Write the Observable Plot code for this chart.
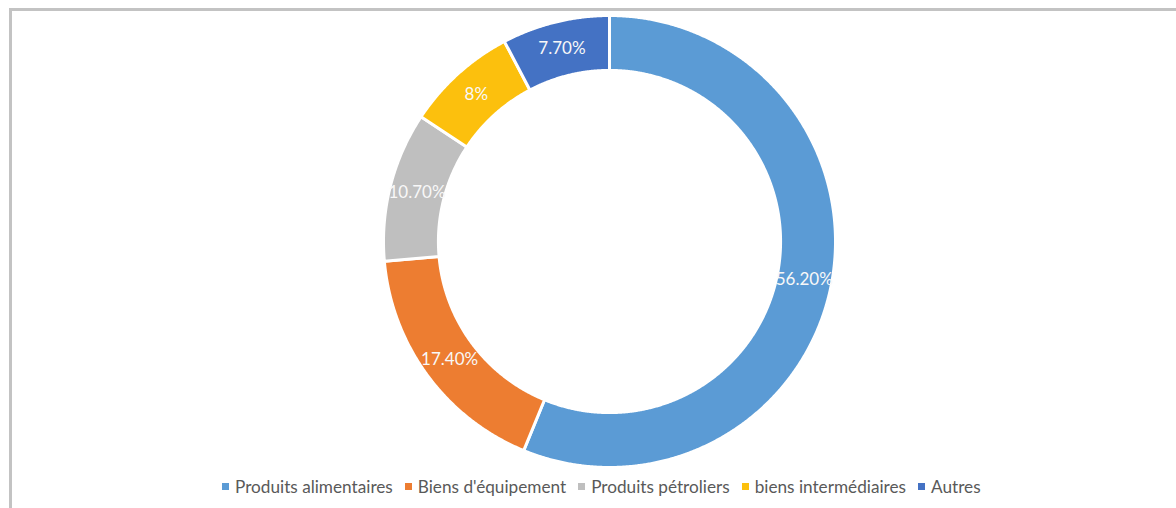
<!DOCTYPE html>
<html>
<head>
<meta charset="utf-8">
<script src="https://cdn.jsdelivr.net/npm/d3@7"></script>
<script src="https://cdn.jsdelivr.net/npm/@observablehq/plot@0.6"></script>
<style>
  html, body { margin: 0; padding: 0; background: #fff; }
  body { width: 1176px; height: 508px; position: relative; overflow: hidden; font-family: Lato, "Open Sans", sans-serif; }
  #frame { position: absolute; left: 9px; top: 8px; width: 1300px; height: 600px; border-top: 3px solid #c3c3c3; border-left: 3px solid #c3c3c3; box-sizing: border-box; }
  #chart { position: absolute; left: 0; top: 0; }
  #legend { position: absolute; left: 222px; top: 476px; display: flex; align-items: center; font-size: 17.2px; color: #595959; white-space: nowrap; }
  #legend .item { display: flex; align-items: center; margin-right: 12px; }
  #legend .sw { width: 7px; height: 7px; margin-right: 6px; }
</style>
</head>
<body>
<div id="frame"></div>
<div id="chart"></div>
<div id="legend"></div>
<script>
const categories = ["Produits alimentaires", "Biens d'équipement", "Produits pétroliers", "biens intermédiaires", "Autres"];
const values = [56.2, 17.4, 10.7, 8, 7.7];
const labels = ["56.20%", "17.40%", "10.70%", "8%", "7.70%"];
const colors = ["#5b9bd5", "#ed7d31", "#bfbfbf", "#fcc00d", "#4472c4"];

const outerR = 1;
const innerR = 0.757;

const arcs = d3.pie().sort(null).value(d => d)(values);
const polys = [];
const centroids = [];
arcs.forEach((a, i) => {
  const cat = categories[i];
  const n = Math.max(2, Math.ceil((a.endAngle - a.startAngle) / 0.005));
  for (let k = 0; k <= n; k++) {
    const t = a.startAngle + (a.endAngle - a.startAngle) * k / n;
    polys.push({cat, x: outerR * Math.sin(t), y: outerR * Math.cos(t)});
  }
  for (let k = n; k >= 0; k--) {
    const t = a.startAngle + (a.endAngle - a.startAngle) * k / n;
    polys.push({cat, x: innerR * Math.sin(t), y: innerR * Math.cos(t)});
  }
  const m = (a.startAngle + a.endAngle) / 2;
  const r = (outerR + innerR) / 2;
  centroids.push({cat, label: labels[i], x: r * Math.sin(m), y: r * Math.cos(m)});
});

const chart = Plot.plot({
  width: 1176,
  height: 476,
  margin: 0,
  style: {background: "transparent", fontFamily: "Lato, 'Open Sans', sans-serif"},
  x: {domain: [-1, 1], range: [383, 835], axis: null},
  y: {domain: [-1, 1], range: [467, 15], axis: null},
  color: {domain: categories, range: colors},
  marks: [
    Plot.line(polys, {x: "x", y: "y", z: "cat", fill: "cat", stroke: "white", strokeWidth: 3, curve: "linear-closed"}),
    Plot.text(centroids, {x: "x", y: "y", text: "label", fill: "#f8f8f8", fontSize: 17})
  ]
});
document.getElementById("chart").appendChild(chart);

const legend = document.getElementById("legend");
categories.forEach((c, i) => {
  const item = document.createElement("div");
  item.className = "item";
  const sw = document.createElement("span");
  sw.className = "sw";
  sw.style.background = colors[i];
  const tx = document.createElement("span");
  tx.textContent = c;
  item.appendChild(sw);
  item.appendChild(tx);
  legend.appendChild(item);
});
</script>
</body>
</html>
